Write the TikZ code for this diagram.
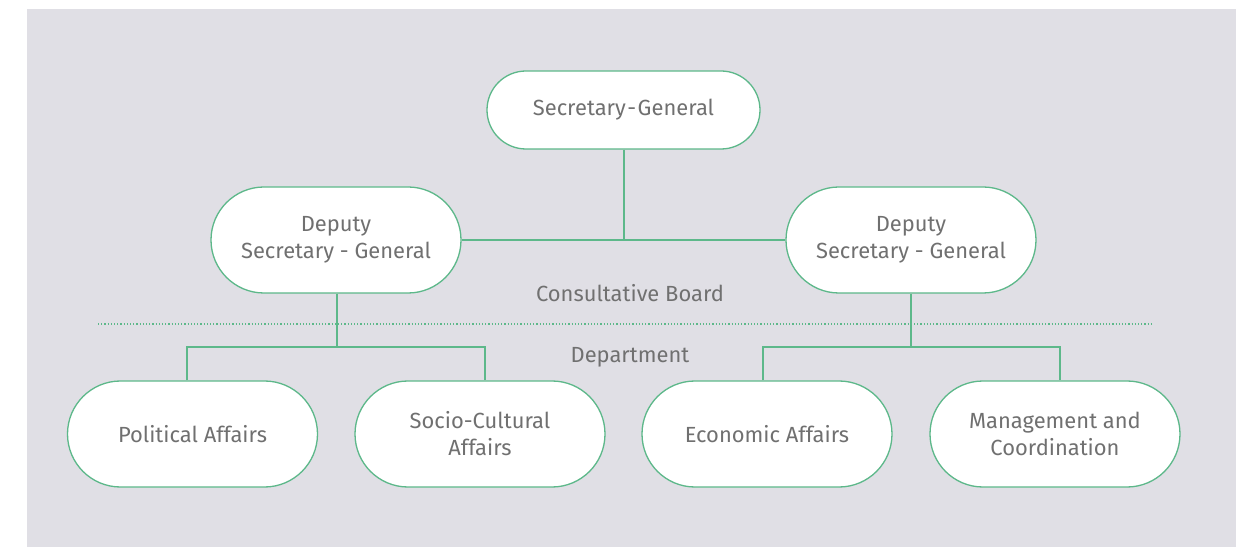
\documentclass[tikz,border=0pt]{standalone}
\usepackage{fontspec}
\setmainfont{Fira Sans}
\begin{document}
\begin{tikzpicture}[x=1bp,y=-1bp,
  box/.style={draw=lineg, line width=1.3bp, fill=white, rounded corners=53bp,
    minimum width=250bp, minimum height=106bp, align=center, text=txtg,
    font=\fontsize{22}{27}\selectfont, inner sep=0pt},
  conn/.style={draw=lineg, line width=1.3bp},
  lbl/.style={text=txtg, font=\fontsize{22}{27}\selectfont, inner sep=0pt}]
\definecolor{lineg}{HTML}{5DB88A}
\definecolor{txtg}{HTML}{707070}
\definecolor{bgg}{HTML}{E0DFE5}
\useasboundingbox (0,0) rectangle (1244,547);
\fill[bgg] (27,9) rectangle (1236,547);
\node[box, minimum width=273bp, minimum height=78bp, rounded corners=39bp] (sg) at (623.5,110) {Secretary\kern1.5bp-\kern1.5bpGeneral};
\node[box] (dl) at (336,240) {Deputy\\Secretary - General};
\node[box] (dr) at (911,240) {Deputy\\Secretary - General};
\node[box] (pa) at (192.5,434) {Political Affairs};
\node[box] (sc) at (480,434) {Socio-Cultural\\Affairs};
\node[box] (ea) at (767,434) {Economic Affairs};
\node[box] (mc) at (1055,434) {Management and\\Coordination};
\node[lbl] (cb) at (630,293) {Consultative Board};
\node[lbl] (dp) at (630,357) {Department};
\coordinate (dl1) at (98,324);
\coordinate (dl2) at (1153,324);
\draw[draw=lineg, line width=1.2bp, dash pattern=on 1.2bp off 2bp] (dl1) -- (dl2);
\coordinate (j0) at (624,240);
\draw[conn] (sg.south -| j0) -- (j0);
\draw[conn] (dl.east) -- (dr.west);
\coordinate (jl) at (337,347);
\coordinate (jr) at (911,347);
\coordinate (xa) at (187,347);
\coordinate (xb) at (485,347);
\coordinate (xc) at (763,347);
\coordinate (xd) at (1060,347);
\draw[conn] (dl.south -| jl) -- (jl);
\draw[conn] (dr.south) -- (jr);
\draw[conn] (pa.north -| xa) -- (xa) -- (xb) -- (sc.north -| xb);
\draw[conn] (ea.north -| xc) -- (xc) -- (xd) -- (mc.north -| xd);
\end{tikzpicture}
\end{document}
